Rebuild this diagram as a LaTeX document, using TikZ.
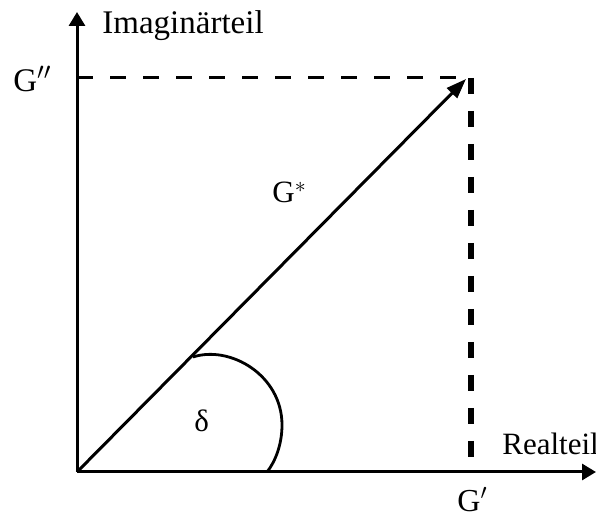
\documentclass[tikz,border=0pt]{standalone}
\usepackage{fontspec}
\setmainfont{Liberation Serif}
\usetikzlibrary{arrows.meta}
\tikzset{
  axis/.style={line width=1.5pt,-{Triangle[length=7pt,width=8pt]}},
  helpline/.style={line width=1.5pt,dash pattern=on 8pt off 8.5pt},
  lbl/.style={inner sep=0pt,anchor=base west,font=\fontsize{15.5}{18}\selectfont}
}
\begin{document}
\begin{tikzpicture}[x=0.5pt,y=-0.5pt]
\useasboundingbox (0,0) rectangle (596,517);
% origin, axis ends, point of the complex modulus
\coordinate (O) at (77,472);
\coordinate (imend) at (77,12);
\coordinate (reend) at (596,472);
\coordinate (Gstar) at (466,79);
\coordinate (corner) at (471,78);
\coordinate (Gim) at (77,78);
\coordinate (Gre) at (471,472);
% axes
\draw[axis] (O) -- (imend);
\draw[axis] (O) -- (reend);
\node[lbl,font=\fontsize{16.5}{19}\selectfont] (imlabel) at (102,34) {Imaginärteil};
\node[lbl] (relabel) at (502,455) {Realteil};
% projections onto the axes
\draw[helpline] (Gim) -- (corner);
\draw[helpline,line width=3pt] (corner) -- (Gre);
\node[lbl,font=\fontsize{16.5}{19}\selectfont] (Gpp) at (13,92) {G$''$};
\node[lbl,font=\fontsize{16}{19}\selectfont] (Gp) at (457,512) {G$'$};
% the vector G* and the loss angle
\draw[line width=1.5pt,-{Triangle[length=10pt,width=7pt]}] (O) -- (Gstar);
\node[lbl,font=\fontsize{15.5}{18}\selectfont] (Glabel) at (272,203) {G$^{*}$};
\draw[line width=1.4pt] (193,357) .. controls (230,345) and (282,375) .. (282,425)
  .. controls (282,445) and (275,462) .. (267,472);
\node[lbl] (delta) at (194,432) {δ};
\end{tikzpicture}
\end{document}
